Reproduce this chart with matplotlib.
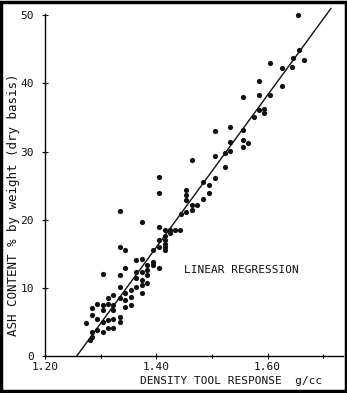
import numpy as np
import matplotlib
matplotlib.use("Agg")
import matplotlib.pyplot as plt
from matplotlib.patches import Rectangle

# ---- data (density g/cc, ash %) ----
density = [
    1.655, 1.656, 1.646, 1.644, 1.665, 1.625, 1.625, 1.605, 1.604,
    1.584, 1.584, 1.584, 1.593, 1.593, 1.575, 1.555, 1.556, 1.556, 1.556,
    1.565, 1.533, 1.533, 1.533, 1.524, 1.524, 1.505, 1.505, 1.505,
    1.494, 1.494, 1.484, 1.484, 1.473, 1.464, 1.464, 1.464,
    1.454, 1.454, 1.454, 1.454, 1.445, 1.443, 1.434, 1.425, 1.425,
    1.415, 1.415, 1.415, 1.415, 1.415, 1.415,
    1.404, 1.404, 1.404, 1.404, 1.404, 1.404,
    1.394, 1.394, 1.394, 1.383, 1.383, 1.383, 1.383,
    1.374, 1.374, 1.374, 1.374, 1.374, 1.374,
    1.364, 1.364, 1.364, 1.364, 1.354, 1.354, 1.354,
    1.344, 1.344, 1.344, 1.344, 1.344,
    1.334, 1.334, 1.334, 1.334, 1.334, 1.334, 1.334,
    1.323, 1.323, 1.323, 1.323, 1.323,
    1.314, 1.314, 1.314, 1.314,
    1.304, 1.304, 1.304, 1.304, 1.304,
    1.294, 1.294, 1.294, 1.284, 1.284, 1.284, 1.284,
    1.274, 1.281,
]
ash = [
    50.1, 44.9, 43.8, 42.4, 43.4, 42.3, 39.6, 43.0, 38.3,
    40.3, 38.3, 36.1, 36.3, 35.6, 35.1, 38.0, 33.1, 31.7, 30.7,
    31.3, 33.6, 31.4, 30.1, 29.8, 27.7, 33.0, 29.4, 26.2,
    25.1, 23.9, 25.6, 23.1, 22.2, 28.8, 22.1, 21.4,
    24.4, 23.6, 22.9, 21.2, 20.9, 18.5, 18.5, 18.5, 18.0,
    18.5, 17.6, 17.0, 16.5, 16.0, 15.5,
    26.3, 23.9, 19.0, 17.1, 16.0, 12.9,
    15.5, 13.8, 13.3, 13.3, 12.6, 11.9, 10.7,
    19.6, 14.3, 12.4, 11.1, 10.4, 9.2,
    14.1, 12.4, 11.4, 10.2, 9.7, 8.7, 7.5,
    15.5, 12.9, 9.2, 8.2, 7.2,
    21.3, 16.0, 11.9, 10.2, 8.5, 5.8, 5.0,
    8.9, 7.5, 6.7, 5.5, 4.1,
    8.5, 7.7, 5.3, 4.1,
    12.1, 7.5, 6.7, 5.0, 3.6,
    7.7, 5.5, 3.8, 7.0, 6.0, 3.6, 2.8,
    4.9, 2.3,
]

# regression line end points
fit_x = [1.257, 1.7135]
fit_y = [0.0, 51.0]

x_ticks = [1.20, 1.40, 1.60]
x_ticklabels = ["1.20", "1.40", "1.60"]
x_minor = [1.30, 1.50, 1.70]
y_ticks = [0, 10, 20, 30, 40, 50]

plt.rcParams["font.family"] = ["DejaVu Sans Mono"]

fig = plt.figure(figsize=(3.47, 3.93), dpi=100)
ax = fig.add_axes([0.1297, 0.094, 0.8583, 0.893])

ax.scatter(density, ash, s=14, color="#111111", marker="o", linewidths=0, zorder=3)
ax.plot(fit_x, fit_y, color="#111111", linewidth=1.0, zorder=2)

ax.set_xlim(1.20, 1.735)
ax.set_ylim(0, 51.5)

for side in ["top", "right"]:
    ax.spines[side].set_visible(False)
ax.spines["left"].set_bounds(0, 50.2)
ax.spines["left"].set_linewidth(1.0)
ax.spines["bottom"].set_linewidth(1.0)

ax.set_xticks(x_ticks)
ax.set_xticklabels(x_ticklabels)
ax.set_xticks(x_minor, minor=True)
ax.set_yticks(y_ticks)
ax.tick_params(axis="both", direction="inout", length=4, width=0.8,
               labelsize=8, colors="#111111")
ax.tick_params(axis="x", which="major", pad=2)
ax.tick_params(axis="y", which="major", pad=6)
ax.tick_params(axis="x", which="minor", direction="inout", length=3, width=0.8)

ax.text(1.449, 12.6, "LINEAR REGRESSION", fontsize=8, color="#111111",
        va="center", ha="left")

fig.text(0.667, 0.031, "DENSITY TOOL RESPONSE  g/cc", fontsize=8,
         ha="center", va="center", color="#111111")
fig.text(0.038, 0.478, "ASH CONTENT % by weight (dry basis)", fontsize=9,
         rotation=90, ha="center", va="center", color="#111111")

# black frame around the scan
fig.patches.append(Rectangle((0.004, 0.004), 0.992, 0.992, transform=fig.transFigure,
                             fill=False, edgecolor="black", linewidth=2.5))

fig.savefig("out.png", dpi=100)
